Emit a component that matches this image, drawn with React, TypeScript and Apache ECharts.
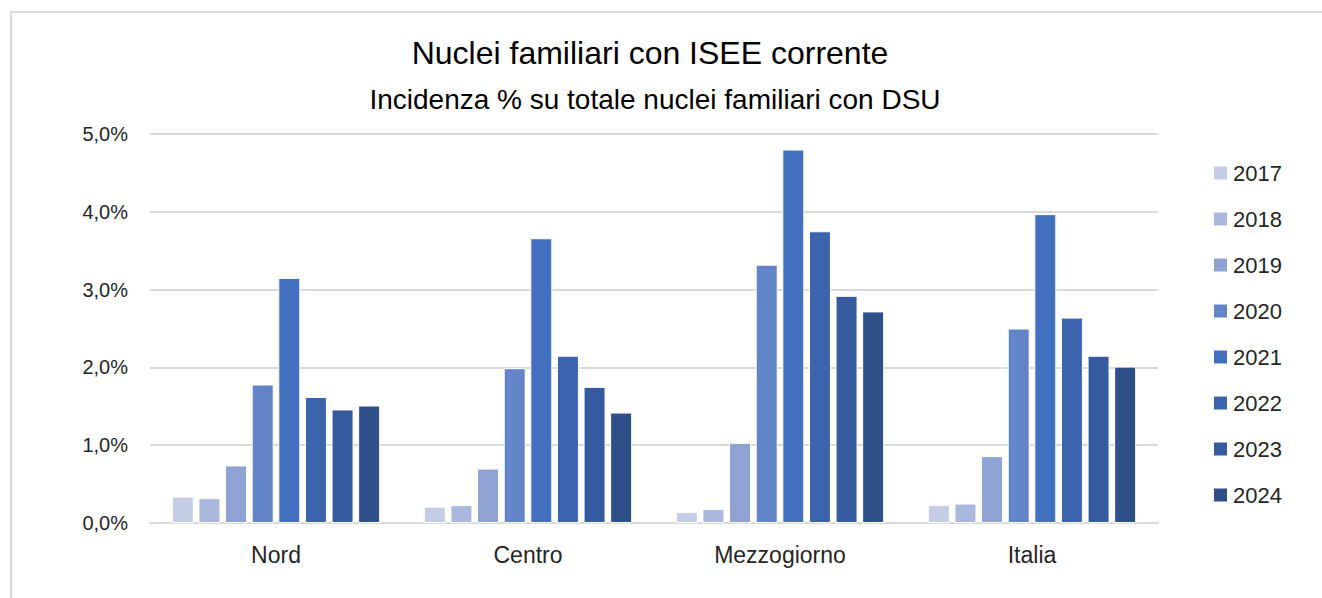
import React, { useEffect, useRef } from "react";
import * as echarts from "echarts";

const categories = ["Nord", "Centro", "Mezzogiorno", "Italia"];
const years = ["2017", "2018", "2019", "2020", "2021", "2022", "2023", "2024"];
// values in % (rows = year, columns = category)
const v2017 = [0.34, 0.21, 0.14, 0.23];
const v2018 = [0.32, 0.23, 0.18, 0.25];
const v2019 = [0.74, 0.7, 1.03, 0.86];
const v2020 = [1.78, 1.99, 3.32, 2.5];
const v2021 = [3.15, 3.66, 4.8, 3.97];
const v2022 = [1.62, 2.15, 3.75, 2.64];
const v2023 = [1.46, 1.75, 2.92, 2.15];
const v2024 = [1.51, 1.42, 2.72, 2.01];
const seriesValues = [v2017, v2018, v2019, v2020, v2021, v2022, v2023, v2024];
const colors = ["#C5CDE6", "#ABB8DE", "#8FA3D3", "#6384C8", "#4370BE", "#3C64AC", "#355A9F", "#2E4F88"];

const titleText = "Nuclei familiari con ISEE corrente";
const subtitleText = "Incidenza % su totale nuclei familiari con DSU";

const FONT = "'Liberation Sans', Arial, sans-serif";

export default function App() {
  const ref = useRef<HTMLDivElement>(null);
  useEffect(() => {
    if (!ref.current) return;
    const chart = echarts.init(ref.current, null, { renderer: "svg" });
    chart.setOption({
      animation: false,
      backgroundColor: "#ffffff",
      textStyle: { fontFamily: FONT },
      graphic: [
        {
          type: "rect",
          shape: { x: 11, y: 12, width: 1340, height: 620 },
          style: { fill: "none", stroke: "#d9d9d9", lineWidth: 2 },
          silent: true,
        },
      ],
      title: [
        {
          text: titleText,
          left: 645,
          textAlign: "center",
          top: 32,
          textStyle: { fontFamily: FONT, fontSize: 32, fontWeight: "normal", color: "#000000" },
        },
        {
          text: subtitleText,
          left: 650,
          textAlign: "center",
          top: 80,
          textStyle: { fontFamily: FONT, fontSize: 28, fontWeight: "normal", color: "#000000" },
        },
      ],
      legend: {
        orient: "vertical",
        left: 1207,
        top: 157,
        icon: "rect",
        itemWidth: 15,
        itemHeight: 15,
        itemGap: 24,
        textStyle: { fontFamily: FONT, fontSize: 22, lineHeight: 22, color: "#262626" },
        data: years,
      },
      grid: { left: 150, right: 164, top: 134, bottom: 75, containLabel: false },
      xAxis: {
        type: "category",
        data: categories,
        axisLine: { show: true, lineStyle: { color: "#d9d9d9", width: 2 } },
        axisTick: { show: false },
        axisLabel: { fontFamily: FONT, fontSize: 23, color: "#262626", margin: 20 },
      },
      yAxis: {
        type: "value",
        min: 0,
        max: 5,
        interval: 1,
        axisLine: { show: false },
        axisTick: { show: false },
        splitLine: { lineStyle: { color: "#d9d9d9", width: 2 } },
        axisLabel: {
          fontFamily: FONT,
          fontSize: 20,
          color: "#262626",
          margin: 22,
          formatter: (v: number) => v.toFixed(1).replace(".", ",") + "%",
        },
      },
      series: years.map((y, i) => ({
        name: y,
        type: "bar",
        data: seriesValues[i],
        barWidth: 22,
        barGap: "21%",
        itemStyle: { color: colors[i], borderColor: "#ffffff", borderWidth: 1 },
      })),
    });
    return () => chart.dispose();
  }, []);
  return <div ref={ref} style={{ position: "fixed", left: 0, top: 0, width: 1322, height: 598 }} />;
}
